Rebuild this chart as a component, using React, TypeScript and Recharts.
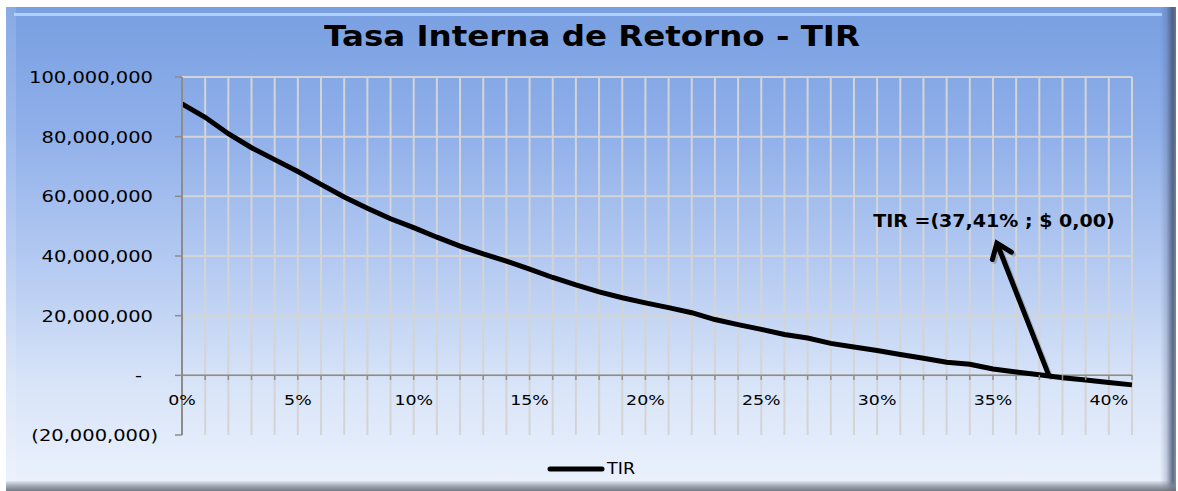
import React from 'react';
import { LineChart, Line, XAxis, YAxis, CartesianGrid, ReferenceLine, Legend } from 'recharts';

// ---- data ----
const rates: number[] = [
  0, 1, 2, 3, 4, 5, 6, 7, 8, 9, 10, 11, 12, 13, 14, 15, 16, 17, 18, 19, 20,
  21, 22, 23, 24, 25, 26, 27, 28, 29, 30, 31, 32, 33, 34, 35, 36, 37, 38, 39, 40, 41,
];
const npvMillions: number[] = [
  91, 86.5, 81, 76.3, 72.3, 68.3, 64, 59.8, 56, 52.5, 49.5,
  46.3, 43.3, 40.7, 38.3, 35.6, 32.8, 30.3, 28, 26, 24.3,
  22.7, 21, 18.7, 17, 15.4, 13.7, 12.5, 10.7, 9.5, 8.3,
  7, 5.7, 4.4, 3.7, 2.1, 1.1, 0.2, -0.8, -1.6, -2.4, -3.2,
];
const yTicks: number[] = [-20000000, 0, 20000000, 40000000, 60000000, 80000000, 100000000];
const gridYValues: number[] = [0, 20000000, 40000000, 60000000, 80000000, 100000000];
const labelEvery = 5;
const lastLabelRate = 40;
const tirRate = 37.41;
const annotationAnchor = { rate: 35.17, value: 44300000 };
const annotationText = 'TIR =(37,41% ; $ 0,00)';
const seriesName = 'TIR';
const chartTitle = 'Tasa Interna de Retorno - TIR';

const data = rates.map((r, i) => ({ rate: r, tir: npvMillions[i] * 1000000 }));

const FONT = '"DejaVu Sans", Verdana, sans-serif';

const fmtY = (v: number) => {
  if (v === 0) return '-';
  const s = Math.abs(v).toLocaleString('en-US');
  return v < 0 ? `(${s})` : s;
};

const YTick = (props: any) => {
  const { x, y, payload } = props;
  const v = payload.value as number;
  const shift = v < 0 ? -15 : v === 0 ? -31 : -20;
  return (
    <g transform={`translate(${x + shift},${y}) scale(1.3,1)`}>
      <text x={0} y={0} dy={6} textAnchor="end" fill="#000" fontSize={15} fontFamily={FONT}>
        {fmtY(v)}
      </text>
    </g>
  );
};

const XTick = (props: any) => {
  const { x, y, payload } = props;
  const v = payload.value as number;
  const zeroY = y - 60;
  const show = v % labelEvery === 0 && v <= lastLabelRate;
  return (
    <g>
      <line x1={x} y1={zeroY} x2={x} y2={zeroY + 5} stroke="#8c8c8c" strokeWidth={1.5} />
      {show && (
        <g transform={`translate(${x},${zeroY + 30}) scale(1.2,1)`}>
          <text x={0} y={0} textAnchor="middle" fill="#000" fontSize={14.5} fontFamily={FONT}>
            {`${v}%`}
          </text>
        </g>
      )}
    </g>
  );
};

const ArrowShape = (props: any) => {
  const x1 = Number(props.x1);
  const y1 = Number(props.y1);
  const x2 = Number(props.x2);
  const y2 = Number(props.y2);
  const dx = x1 - x2;
  const dy = y1 - y2;
  const len = Math.sqrt(dx * dx + dy * dy) || 1;
  const ux = dx / len;
  const uy = dy / len;
  const wing = 17;
  const ang = (37 * Math.PI) / 180;
  const rot = (a: number) => ({
    x: x2 + wing * (ux * Math.cos(a) - uy * Math.sin(a)),
    y: y2 + wing * (ux * Math.sin(a) + uy * Math.cos(a)),
  });
  const w1 = rot(ang);
  const w2 = rot(-ang);
  const d = `M${x1},${y1} L${x2},${y2} M${w1.x},${w1.y} L${x2},${y2} L${w2.x},${w2.y}`;
  return (
    <g>
      <path d={d} transform="translate(2,2)" fill="none" stroke="rgba(0,0,0,0.18)" strokeWidth={5} strokeLinecap="round" />
      <path d={d} fill="none" stroke="#000" strokeWidth={5} strokeLinecap="round" strokeLinejoin="miter" />
      <g transform={`translate(${x2 - 3},${y2 - 16}) scale(1.12,1)`}>
        <text x={0} y={0} textAnchor="middle" fontSize={17} fontWeight="bold" fill="#000" fontFamily={FONT}>
          {annotationText}
        </text>
      </g>
    </g>
  );
};

const LegendContent = () => (
  <div
    style={{
      display: 'flex',
      justifyContent: 'center',
      alignItems: 'center',
      height: 36,
      paddingLeft: 12,
      paddingBottom: 8,
      boxSizing: 'border-box',
    }}
  >
    <svg width={58} height={8} style={{ display: 'block' }}>
      <line x1={3} y1={4} x2={55} y2={4} stroke="#000" strokeWidth={5} strokeLinecap="round" />
    </svg>
    <span
      style={{
        fontFamily: FONT,
        fontSize: 15,
        color: '#000',
        display: 'inline-block',
        transform: 'scaleX(1.17)',
        transformOrigin: 'left center',
        marginLeft: 2,
        width: 36,
      }}
    >
      {seriesName}
    </span>
  </div>
);

export default function App() {
  return (
    <div style={{ position: 'absolute', left: 0, top: 0, width: 1178, height: 491, background: '#ffffff', overflow: 'hidden' }}>
      {/* panel */}
      <div
        style={{
          position: 'absolute',
          left: 6,
          top: 7,
          width: 1170,
          height: 484,
          background: 'linear-gradient(to bottom, #789fe1 0%, #8fafea 25%, #b3c9f1 52%, #d8e4f8 78%, #ecf2fd 100%)',
        }}
      />
      <div style={{ position: 'absolute', left: 6, top: 7, width: 10, height: 476, background: 'rgba(255,255,255,0.12)' }} />
      <div style={{ position: 'absolute', left: 14, top: 13, width: 1148, height: 3, background: 'rgba(185,218,255,0.85)' }} />
      <div
        style={{
          position: 'absolute',
          left: 1160,
          top: 7,
          width: 16,
          height: 484,
          background:
            'linear-gradient(to right, rgba(80,95,130,0) 0%, rgba(80,95,130,0.25) 40%, rgba(70,85,115,0.85) 80%, rgba(95,105,125,0.7) 100%)',
        }}
      />
      <div
        style={{
          position: 'absolute',
          left: 6,
          top: 481,
          width: 1170,
          height: 10,
          background: 'linear-gradient(to bottom, rgba(120,128,140,0.1) 0%, rgba(130,137,148,0.7) 50%, rgba(110,116,126,0.95) 100%)',
        }}
      />
      {/* title */}
      <div
        style={{
          position: 'absolute',
          left: 0,
          top: 20,
          width: 1184,
          textAlign: 'center',
          fontFamily: FONT,
          fontWeight: 'bold',
          fontSize: 28,
          lineHeight: '34px',
          color: '#000',
          transform: 'scaleX(1.16)',
          transformOrigin: '592px 0',
        }}
      >
        {chartTitle}
      </div>
      <div style={{ position: 'absolute', left: 0, top: 0 }}>
        <LineChart
          width={1178}
          height={491}
          data={data}
          margin={{ top: 77, right: 46, bottom: 0, left: 0 }}
        >
          <CartesianGrid
            stroke="#d4d4d4"
            strokeWidth={2}
            horizontalValues={gridYValues}
            verticalValues={rates}
          />
          <XAxis
            dataKey="rate"
            type="number"
            domain={[0, 41]}
            ticks={rates}
            interval={0}
            axisLine={false}
            tickLine={false}
            tickSize={0}
            tickMargin={0}
            height={20}
            tick={<XTick />}
          />
          <YAxis
            type="number"
            domain={[-20000000, 100000000]}
            ticks={yTicks}
            interval={0}
            width={182}
            axisLine={{ stroke: '#8c8c8c', strokeWidth: 2 }}
            tickLine={{ stroke: '#8c8c8c', strokeWidth: 1.5 }}
            tickSize={7}
            tick={<YTick />}
          />
          <ReferenceLine y={0} stroke="#8c8c8c" strokeWidth={1.5} />
          <Line
            type="linear"
            dataKey="tir"
            name={seriesName}
            stroke="#000"
            strokeWidth={5}
            dot={false}
            activeDot={false}
            isAnimationActive={false}
          />
          <ReferenceLine
            segment={[
              { x: tirRate, y: 0 },
              { x: annotationAnchor.rate, y: annotationAnchor.value },
            ]}
            shape={<ArrowShape />}
            ifOverflow="visible"
          />
          <Legend
            verticalAlign="bottom"
            height={36}
            content={<LegendContent />}
            wrapperStyle={{ left: 0, width: 1178, bottom: 0, height: 36 }}
          />
        </LineChart>
      </div>
    </div>
  );
}
